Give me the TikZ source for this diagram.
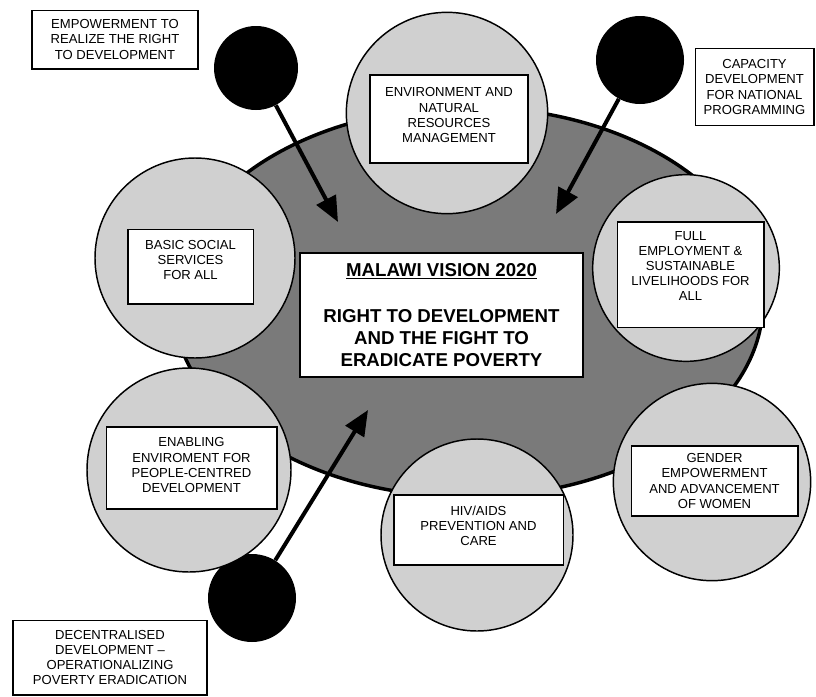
\documentclass[tikz,border=0pt]{standalone}
\usepackage{fontspec}
\setmainfont{Liberation Sans}
\usetikzlibrary{arrows.meta,shapes.geometric}
\definecolor{ovalgray}{HTML}{7A7A7A}
\definecolor{discgray}{HTML}{D0D0D0}
\newcommand{\liftby}[1]{\\[#1]\mbox{}}
\begin{document}
\begin{tikzpicture}[x=0.75pt,y=-0.75pt,
  oval/.style={draw=black,line width=2.6pt,fill=ovalgray,ellipse,inner sep=0pt},
  disc/.style={draw=black,line width=1.1pt,fill=discgray,circle,inner sep=0pt},
  blackdot/.style={fill=black,circle,inner sep=0pt},
  labelbox/.style={draw=black,line width=1pt,fill=white,inner sep=0pt,align=center,
    font=\fontsize{9.8}{11.3}\selectfont},
  mainbox/.style={draw=black,line width=1.4pt,fill=white,inner sep=0pt,align=center,
    font=\fontsize{14}{16.5}\selectfont\bfseries},
  bigarrow/.style={draw=black,line width=3pt,-{Triangle[length=19pt,width=16pt]}}
]
\useasboundingbox (0,0) rectangle (816,696);
% big oval
\node[oval,minimum width=442.5pt,minimum height=292.5pt] (oval) at (468,302) {};
% arrow end points
\coordinate (tltip) at (338,222);
\coordinate (trtip) at (556,214);
\coordinate (bltip) at (368,410);
% black dots
\node[blackdot,minimum size=63pt] (tldot) at (256,68) {};
\node[blackdot,minimum size=66pt] (trdot) at (640,60) {};
\node[blackdot,minimum size=66pt] (bldot) at (252,598) {};
\draw[bigarrow] (tldot) -- (tltip);
\draw[bigarrow] (trdot) -- (trtip);
\draw[bigarrow] (bldot) -- (bltip);
% discs
\node[disc,minimum size=151pt] (envdisc) at (447,113) {};
\node[disc,minimum size=150pt] (basicdisc) at (195,258) {};
\node[disc,minimum size=140pt] (empdisc) at (686,268) {};
\node[disc,minimum size=153pt] (enabdisc) at (189,470) {};
\node[disc,minimum size=144pt] (hivdisc) at (477,535) {};
\node[disc,minimum size=148pt] (gendisc) at (712,482) {};
% boxes in discs
\node[labelbox,minimum width=118.5pt,minimum height=66pt] (envbox) at (449,119)
  {ENVIRONMENT AND\\NATURAL\\RESOURCES\\MANAGEMENT\liftby{-5.3pt}};
\node[labelbox,minimum width=94pt,minimum height=56pt] (basicbox) at (190.5,266.5)
  {BASIC SOCIAL\\SERVICES\\FOR ALL\liftby{-1pt}};
\node[labelbox,minimum width=110pt,minimum height=79pt] (empbox) at (690.5,274.5)
  {FULL\\EMPLOYMENT \&\\SUSTAINABLE\\LIVELIHOODS FOR\\ALL\liftby{1pt}};
\node[labelbox,minimum width=128pt,minimum height=61.5pt] (enabbox) at (191.5,468)
  {ENABLING\\ENVIROMENT FOR\\PEOPLE-CENTRED\\DEVELOPMENT\liftby{-6.8pt}};
\node[labelbox,minimum width=127pt,minimum height=52.5pt] (hivbox) at (478.5,530)
  {HIV/AIDS\\PREVENTION AND\\CARE\liftby{-5.3pt}};
\node[labelbox,minimum width=125pt,minimum height=52.5pt] (genbox) at (714.5,481)
  {GENDER\\EMPOWERMENT\\AND ADVANCEMENT\\OF WOMEN};
% central box
\node[mainbox,minimum width=212pt,minimum height=93pt] (centre) at (441.5,315)
  {\underline{MALAWI VISION 2020}\\[18pt]RIGHT TO DEVELOPMENT\\AND THE FIGHT TO\\ERADICATE POVERTY};
% outer labels
\node[labelbox,minimum width=124.5pt,minimum height=44pt] (empowerlbl) at (115,39.5)
  {EMPOWERMENT TO\\REALIZE THE RIGHT\\TO DEVELOPMENT};
\node[labelbox,minimum width=89pt,minimum height=58pt] (capacitylbl) at (754.5,87)
  {CAPACITY\\DEVELOPMENT\\FOR NATIONAL\\PROGRAMMING};
\node[labelbox,minimum width=145.5pt,minimum height=56pt] (decentlbl) at (110,657.5)
  {DECENTRALISED\\DEVELOPMENT --\\OPERATIONALIZING\\POVERTY ERADICATION};
\end{tikzpicture}
\end{document}
